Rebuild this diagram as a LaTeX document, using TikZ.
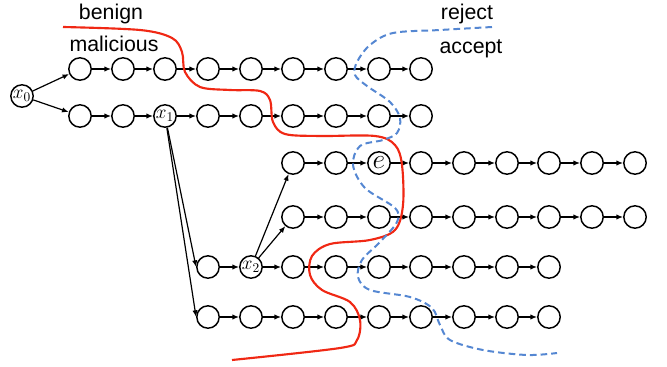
\documentclass[tikz,border=0pt]{standalone}
\usepackage{fontspec}
\setmainfont{Liberation Sans}
\usetikzlibrary{arrows.meta}

\tikzset{every picture/.style={line width=0.75pt}}
\tikzset{
  state/.style={draw, circle, line width=1.1pt, minimum size=16.8pt, inner sep=0pt, font=\Large},
  link/.style={-{Latex[length=5pt,width=4pt]}, line width=0.9pt},
  lbl/.style={font=\fontsize{16}{18}\selectfont, inner sep=0.75pt}
}
\definecolor{benignred}{RGB}{240,40,20}
\definecolor{acceptblue}{RGB}{85,135,210}

\begin{document}
\begin{tikzpicture}[x=0.75pt,y=0.75pt,yscale=-1,xscale=1]
	\useasboundingbox (0,0) rectangle (667,367);

	% Root
	\node [state] (x0) at (22,96) {$x_{0}$};

	% Row 1
	\node [state] (a1) at (80,69) {};
	\node [state] (a2) at (123,69) {};
	\node [state] (a3) at (165,69) {};
	\node [state] (a4) at (208,69) {};
	\node [state] (a5) at (251,69) {};
	\node [state] (a6) at (293,69) {};
	\node [state] (a7) at (336,69) {};
	\node [state] (a8) at (379,69) {};
	\node [state] (a9) at (421,69) {};

	% Row 2
	\node [state] (b1) at (80,116) {};
	\node [state] (b2) at (123,116) {};
	\node [state] (x1) at (165,116) {$x_{1}$};
	\node [state] (b4) at (208,116) {};
	\node [state] (b5) at (251,116) {};
	\node [state] (b6) at (293,116) {};
	\node [state] (b7) at (336,116) {};
	\node [state] (b8) at (379,116) {};
	\node [state] (b9) at (421,116) {};

	% Row 3
	\node [state] (c1) at (293,163) {};
	\node [state] (c2) at (336,163) {};
	\node [state, font=\fontsize{21}{23}\selectfont] (e) at (379,163) {$e$};
	\node [state] (c4) at (421,163) {};
	\node [state] (c5) at (464,163) {};
	\node [state] (c6) at (507,163) {};
	\node [state] (c7) at (549,163) {};
	\node [state] (c8) at (592,163) {};
	\node [state] (c9) at (635,163) {};

	% Row 4
	\node [state] (d1) at (293,217) {};
	\node [state] (d2) at (336,217) {};
	\node [state] (d3) at (379,217) {};
	\node [state] (d4) at (421,217) {};
	\node [state] (d5) at (464,217) {};
	\node [state] (d6) at (507,217) {};
	\node [state] (d7) at (549,217) {};
	\node [state] (d8) at (592,217) {};
	\node [state] (d9) at (635,217) {};

	% Row 5
	\node [state] (f1) at (208,267) {};
	\node [state] (x2) at (251,267) {$x_{2}$};
	\node [state] (f3) at (293,267) {};
	\node [state] (f4) at (336,267) {};
	\node [state] (f5) at (379,267) {};
	\node [state] (f6) at (421,267) {};
	\node [state] (f7) at (464,267) {};
	\node [state] (f8) at (507,267) {};
	\node [state] (f9) at (549,267) {};

	% Row 6
	\node [state] (g1) at (208,317) {};
	\node [state] (g2) at (251,317) {};
	\node [state] (g3) at (293,317) {};
	\node [state] (g4) at (336,317) {};
	\node [state] (g5) at (379,317) {};
	\node [state] (g6) at (421,317) {};
	\node [state] (g7) at (464,317) {};
	\node [state] (g8) at (507,317) {};
	\node [state] (g9) at (549,317) {};

	% Branches
	\draw [link] (x0) -- (a1);
	\draw [link] (x0) -- (b1);
	\draw [link] (x1) -- (f1.west);
	\draw [link] (x1) -- (g1.west);
	\draw [link] (x2) -- (c1);
	\draw [link] (x2) -- (d1);

	% Chains
	\draw [link] (a1) -- (a2);
	\draw [link] (a2) -- (a3);
	\draw [link] (a3) -- (a4);
	\draw [link] (a4) -- (a5);
	\draw [link] (a5) -- (a6);
	\draw [link] (a6) -- (a7);
	\draw [link] (a7) -- (a8);
	\draw [link] (a8) -- (a9);

	\draw [link] (b1) -- (b2);
	\draw [link] (b2) -- (x1);
	\draw [link] (x1) -- (b4);
	\draw [link] (b4) -- (b5);
	\draw [link] (b5) -- (b6);
	\draw [link] (b6) -- (b7);
	\draw [link] (b7) -- (b8);
	\draw [link] (b8) -- (b9);

	\draw [link] (c1) -- (c2);
	\draw [link] (c2) -- (e);
	\draw [link] (e) -- (c4);
	\draw [link] (c4) -- (c5);
	\draw [link] (c5) -- (c6);
	\draw [link] (c6) -- (c7);
	\draw [link] (c7) -- (c8);
	\draw [link] (c8) -- (c9);

	\draw [link] (d1) -- (d2);
	\draw [link] (d2) -- (d3);
	\draw [link] (d3) -- (d4);
	\draw [link] (d4) -- (d5);
	\draw [link] (d5) -- (d6);
	\draw [link] (d6) -- (d7);
	\draw [link] (d7) -- (d8);
	\draw [link] (d8) -- (d9);

	\draw [link] (f1) -- (x2);
	\draw [link] (x2) -- (f3);
	\draw [link] (f3) -- (f4);
	\draw [link] (f4) -- (f5);
	\draw [link] (f5) -- (f6);
	\draw [link] (f6) -- (f7);
	\draw [link] (f7) -- (f8);
	\draw [link] (f8) -- (f9);

	\draw [link] (g1) -- (g2);
	\draw [link] (g2) -- (g3);
	\draw [link] (g3) -- (g4);
	\draw [link] (g4) -- (g5);
	\draw [link] (g5) -- (g6);
	\draw [link] (g6) -- (g7);
	\draw [link] (g7) -- (g8);
	\draw [link] (g8) -- (g9);

	% Benign / malicious boundary
	\draw [benignred, line width=1.6pt] plot [smooth, tension=0.55] coordinates {
		(63,27) (140,30) (172,38) (182,52) (185,72) (200,87) (230,90) (260,91) (270,100)
		(273,122) (285,134) (320,136) (375,136) (395,145) (402,165) (403,205) (395,230)
		(370,240) (330,244) (312,256) (310,275) (322,290) (350,302) (360,320) (357,340)
		(340,348) (232,360)};

	% Reject / accept boundary
	\draw [acceptblue, line width=1.5pt, dash pattern=on 5pt off 3pt] plot [smooth, tension=0.55] coordinates {
		(492,27) (440,30) (393,33) (370,45) (357,62) (355,75) (367,86) (390,102) (400,118)
		(397,133) (383,140) (360,146) (353,165) (365,188) (395,208) (397,222) (380,242)
		(362,260) (358,277) (370,290) (410,297) (432,308) (440,325) (450,340) (483,350)
		(527,355) (557,353)};

	% Labels
	\node [lbl] (benign) at (111,14) {benign};
	\node [lbl] (malicious) at (114,44) {malicious};
	\node [lbl] (reject) at (467,14) {reject};
	\node [lbl] (accept) at (471,49) {accept};

\end{tikzpicture}
\end{document}
